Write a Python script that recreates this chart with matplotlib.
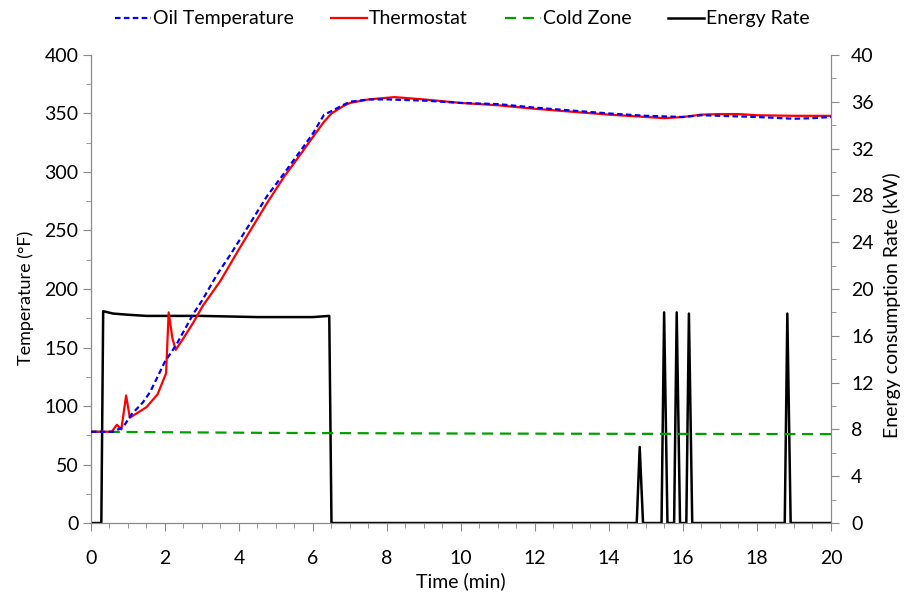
import numpy as np
import matplotlib
matplotlib.use("Agg")
import matplotlib.pyplot as plt
from matplotlib.ticker import MultipleLocator

plt.rcParams['font.family'] = ['Lato', 'DejaVu Sans']

# oil temperature (blue dashed), min / degF
oil_t = [0, 0.3, 0.6, 0.87, 1.1, 1.4, 1.6, 1.8, 2.0, 2.3, 2.77, 3.0, 3.4, 3.76, 4.2,
         4.75, 5.2, 5.73, 6.0, 6.3, 6.5, 6.8, 7.0, 7.5, 8.0, 9.0, 10.0, 11.0, 12.0,
         13.0, 14.0, 15.0, 15.5, 16.0, 16.5, 17.0, 18.0, 19.0, 19.5, 20.0]
oil_temp = [78, 78, 78, 82, 93, 103, 112, 125, 138, 152, 179, 190, 212, 229, 251,
            279, 298, 321, 333, 349, 352, 357, 360, 362, 362, 361, 359, 358, 355,
            352.5, 350, 348, 347.5, 347, 348.5, 348, 347, 345.5, 346, 347]

# thermostat reading (red)
th_t = [0, 0.3, 0.56, 0.7, 0.82, 0.95, 1.05, 1.2, 1.5, 1.8, 2.03, 2.1, 2.2, 2.29,
        2.5, 2.76, 3.03, 3.5, 4.0, 4.75, 5.2, 5.73, 6.0, 6.3, 6.5, 6.8, 7.0, 7.5,
        8.2, 9.0, 10.0, 11.0, 12.0, 13.0, 14.0, 15.0, 15.5, 16.0, 16.5, 17.0,
        17.5, 18.0, 19.0, 20.0]
th_temp = [78, 78, 78, 84, 80, 109, 90, 93, 99, 110, 128, 180, 158, 148, 158, 171,
           186, 207, 234, 273, 295, 318, 330, 343, 350, 356, 359, 362, 364, 362,
           359, 357, 354, 351.5, 349, 347, 346, 347, 349, 349.5, 349.5, 348.5,
           348, 348]

# cold zone temperature (green dashed)
cold_t = [0, 5, 10, 15, 20]
cold_temp = [78, 77, 76.5, 76.2, 76]

# burner energy rate, kW
en_t = [0, 0.28, 0.33, 0.6, 1.0, 1.5, 3.0, 4.5, 6.0, 6.44, 6.5, 14.75, 14.83,
        14.92, 15.42, 15.49, 15.58, 15.76, 15.83, 15.92, 16.09, 16.16, 16.25,
        18.75, 18.82, 18.91, 20.0]
en_rate = [0, 0, 18.1, 17.9, 17.8, 17.7, 17.7, 17.6, 17.6, 17.7, 0, 0, 6.5, 0,
           0, 18.0, 0, 0, 18.0, 0, 0, 17.9, 0, 0, 17.9, 0, 0]

fig = plt.figure(figsize=(9.07, 5.93), dpi=100)
ax1 = fig.add_axes([0.1003, 0.118, 0.8159, 0.7893])
ax2 = ax1.twinx()
ax1.set_zorder(ax2.get_zorder() + 1)
ax1.patch.set_visible(False)

l_oil, = ax1.plot(oil_t, oil_temp, color='#0000ff', lw=1.6, ls=(0, (2.5, 1.5)),
                  label='Oil Temperature', zorder=4)
l_th, = ax1.plot(th_t, th_temp, color='#ff0000', lw=1.6, label='Thermostat', zorder=3)
l_cold, = ax1.plot(cold_t, cold_temp, color='#00a000', lw=1.6, ls=(0, (5, 3)),
                   label='Cold Zone', zorder=2)
l_en, = ax2.plot(en_t, en_rate, color='black', lw=1.8, label='Energy Rate')

ax1.set_xlim(0, 20)
ax1.set_ylim(0, 400)
ax2.set_ylim(0, 40)

ax1.xaxis.set_major_locator(MultipleLocator(2))
ax1.xaxis.set_minor_locator(MultipleLocator(0.5))
ax1.yaxis.set_major_locator(MultipleLocator(50))
ax1.yaxis.set_minor_locator(MultipleLocator(25))
ax2.yaxis.set_major_locator(MultipleLocator(4))
ax2.yaxis.set_minor_locator(MultipleLocator(2))

for ax in (ax1, ax2):
    for s in ax.spines.values():
        s.set_color('#888888')
    ax.spines['top'].set_visible(False)
    ax.tick_params(which='major', color='#888888', length=5.5, labelsize=14,
                   labelcolor='black')
    ax.tick_params(which='minor', color='#888888', length=3.5)
ax1.tick_params(axis='x', which='major', pad=14)
ax2.tick_params(axis='y', which='major', pad=9)

# axis titles placed by hand so they sit clear of the tick labels
ax1.set_xlabel('Time (min)', fontsize=14, va='top')
ax1.xaxis.set_label_coords(0.5, -0.105)
ax1.set_ylabel('Temperature (°F)', fontsize=13)
ax2.set_ylabel('Energy consumption Rate (kW)', fontsize=14)
ax1.yaxis.set_label_coords(-0.077, 0.48)
ax2.yaxis.set_label_coords(1.07, 0.465)

fig.legend(handles=[l_oil, l_th, l_cold, l_en], loc='upper center',
           bbox_to_anchor=(0.51, 1.012), ncol=4, frameon=False, fontsize=14,
           handlelength=1.85, handletextpad=0.1, columnspacing=1.9)

fig.savefig('out.png', dpi=100)
